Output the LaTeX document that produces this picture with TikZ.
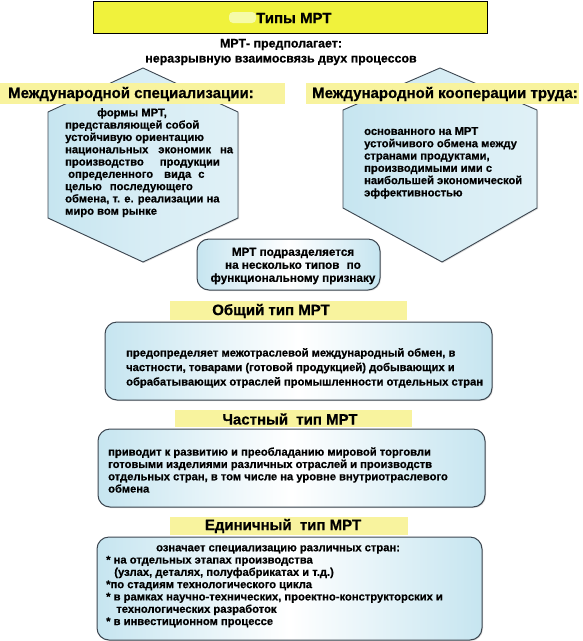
\documentclass[tikz,border=0pt]{standalone}
\usepackage{fontspec}
\setmainfont{Liberation Sans}[BoldFeatures={FakeBold=0.6}]
\usetikzlibrary{shadows,calc}
\definecolor{titley}{HTML}{F0F23C}
\definecolor{blobc}{HTML}{F6FBA8}
\definecolor{bandy}{HTML}{F8F39E}
\definecolor{lblue}{HTML}{C6E5F0}
\definecolor{edgec}{HTML}{3C4650}
\begin{document}
\begin{tikzpicture}[x=1pt,y=-1pt,
  body/.style={font=\bfseries\fontsize{11.2}{12.3}\selectfont, inner sep=0pt, text=black},
  bandtext/.style={font=\bfseries\fontsize{15}{17}\selectfont, inner sep=0pt},
  hexshape/.style={draw=edgec, line width=0.9pt, left color=lblue, right color=lblue!55!white, middle color=lblue!70!white, drop shadow={shadow xshift=1pt,shadow yshift=-1pt,opacity=0.25}},
  roundbox/.style={draw=edgec, line width=1pt, rounded corners=12pt, left color=lblue, right color=lblue, middle color=white, drop shadow={shadow xshift=1pt,shadow yshift=-1pt,opacity=0.25}}
]
\useasboundingbox (0,0) rectangle (583,641);
\fill[white] (0,0) rectangle (583,641);

% title
\node[draw=black, line width=0.8pt, fill=titley, minimum width=394pt, minimum height=32pt, anchor=north west, inner sep=0pt] (title) at (93,1) {};
\fill[blobc, rounded corners=4pt] (229,12) rectangle (256,23);
\node[font=\bfseries\fontsize{15}{17}\selectfont, anchor=west, inner sep=0pt] (titletext) at (256,18) {Типы МРТ};

% subtitle
\node[font=\bfseries\fontsize{12.4}{15}\selectfont, align=center, inner sep=0pt] (sub) at (281,52) {МРТ- предполагает:\\неразрывную взаимосвязь двух процессов};

% hexagons
\path[hexshape] (143,68) -- (238,112) -- (238,218) -- (143,262) -- (48,218) -- (48,112) -- cycle;
\path[hexshape] (440,68) -- (537,110) -- (537,208) -- (442,262) -- (343,208) -- (343,110) -- cycle;

% heading bands
\fill[bandy] (0,83) rectangle (285,104);
\node[bandtext, anchor=west] (spec) at (8,94) {Международной специализации:};
\fill[bandy] (306,83) rectangle (579,104);
\node[bandtext, anchor=west] (coop) at (312,94) {Международной кооперации труда:};

% hex texts
\node[body, anchor=north west, align=left] (lhex) at (65,108) {\hspace*{32pt}формы МРТ,\\
представляющей собой\\
устойчивую ориентацию\\
национальных\hspace{10pt}экономик\hspace{9pt}на\\
производство\hspace{16pt}продукции\\
\hspace*{3pt}определенного\hspace{11pt}вида\hspace{7pt}с\\
целью\hspace{8pt}последующего\\
обмена, т. е. реализации на\\
миро вом рынке};

\node[body, anchor=north west, align=left] (rhex) at (364,127) {основанного на МРТ\\
устойчивого обмена между\\
странами продуктами,\\
производимыми ими с\\
наибольшей экономической\\
эффективностью};

% middle box
\path[roundbox] (197,239) rectangle (380,290);
\node[body, align=center, font=\bfseries\fontsize{11.7}{13}\selectfont] (mid) at (293,266) {МРТ подразделяется\\на несколько типов\hspace{4pt} по\\функциональному признаку};

% general type
\fill[bandy] (170,301) rectangle (407,320);
\node[bandtext] (gen) at (271,311) {Общий тип МРТ};
\path[roundbox] (105,322) rectangle (492,400);
\node[body, anchor=west, align=left, font=\bfseries\fontsize{11.2}{14.5}\selectfont] (gentext) at (126,368) {предопределяет межотраслевой международный обмен, в\\
частности, товарами (готовой продукцией) добывающих и\\
обрабатывающих отраслей промышленности отдельных стран};

% partial type
\fill[bandy] (175,410) rectangle (412,427);
\node[bandtext] (part) at (290,419) {Частный\hspace{4pt} тип МРТ};
\path[roundbox] (98,429) rectangle (485,507);
\node[body, anchor=west, align=left] (parttext) at (108,470) {приводит к развитию и преобладанию мировой торговли\\
готовыми изделиями различных отраслей и производств\\
отдельных стран, в том числе на уровне внутриотраслевого\\
обмена};

% single type
\fill[bandy] (170,517) rectangle (408,535);
\node[bandtext] (single) at (283,526) {Единичный\hspace{4pt} тип МРТ};
\path[roundbox] (97,537) rectangle (482,640);
\node[body, anchor=north west, align=left] (singletext) at (106,545) {\hspace*{50pt}означает специализацию различных стран:\\
* на отдельных этапах производства\\
\hspace*{5pt} (узлах, деталях, полуфабрикатах и т.д.)\\
*по стадиям технологического цикла\\
* в рамках научно-технических, проектно-конструкторских и\\
\hspace*{7pt} технологических разработок\\
* в инвестиционном процессе};
\end{tikzpicture}
\end{document}
